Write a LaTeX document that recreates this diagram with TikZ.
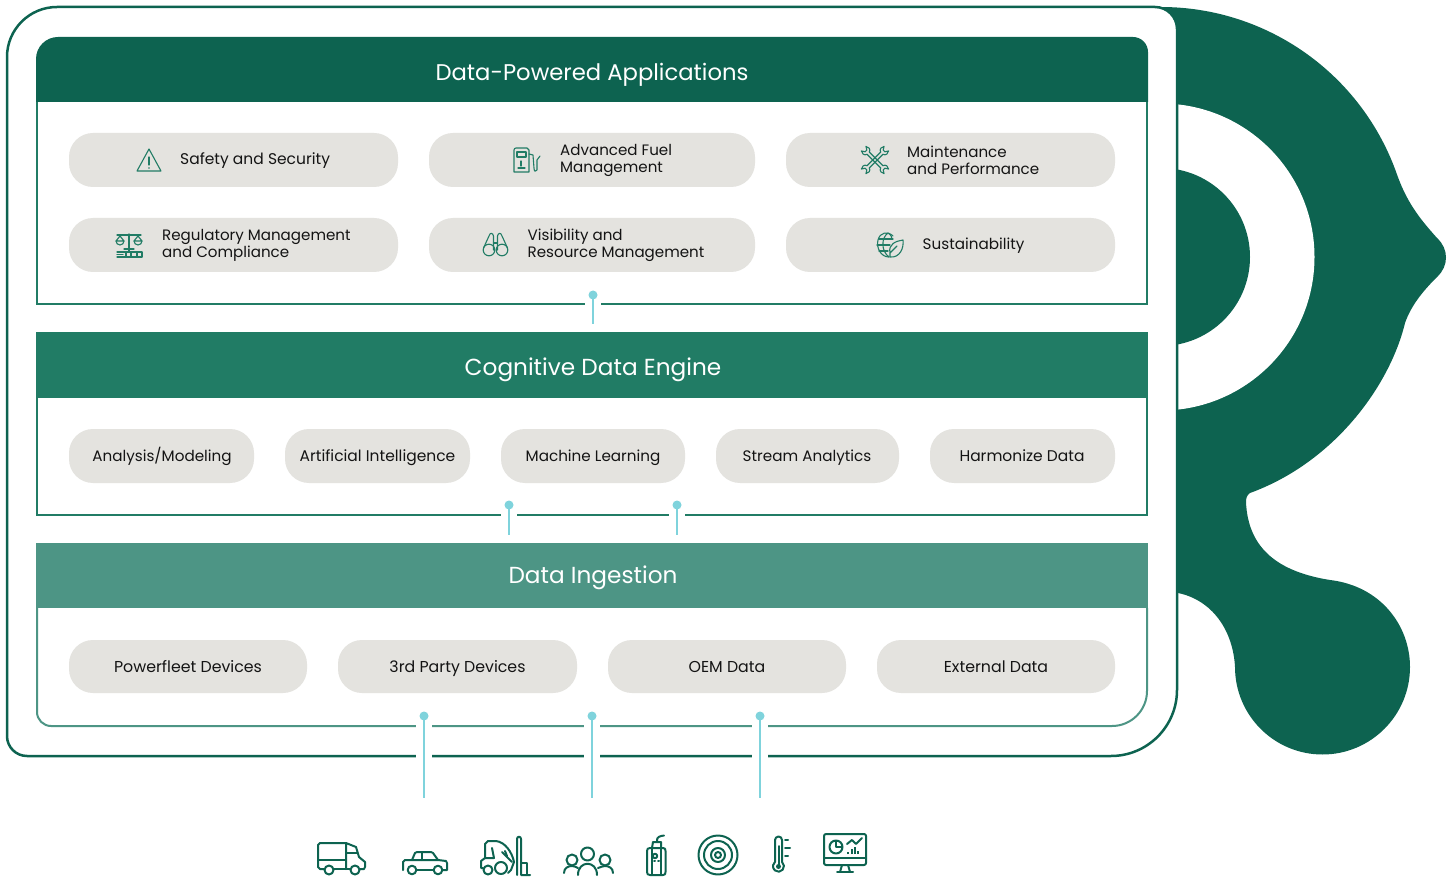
\documentclass[tikz,border=0pt]{standalone}
\usepackage{fontspec}
\setmainfont{Poppins}
\definecolor{gdark}{HTML}{0D6350}
\definecolor{gmid}{HTML}{217C65}
\definecolor{glight}{HTML}{4D9585}
\definecolor{pillc}{HTML}{E4E3DF}
\definecolor{teal}{HTML}{7FD3DC}
\definecolor{ink}{HTML}{141414}
\tikzset{
  x=1pt,y=-1pt,
  pill/.style={fill=pillc,draw=none,rounded corners=24pt},
  pilltext/.style={font=\fontsize{15.2}{17}\selectfont,text=ink,align=left,inner sep=0pt,text height=11pt,text depth=3.5pt},
  twoline/.style={font=\fontsize{15.1}{17}\selectfont},
  headtext/.style={font=\fontsize{22.7}{26}\selectfont,text=white,inner sep=0pt,text height=17pt,text depth=5pt},
  headwide/.style={font=\fontsize{23.2}{26}\selectfont},
  dot/.style={circle,fill=teal,draw=none,minimum size=9pt,inner sep=0pt},
  conn/.style={draw=teal,line width=2pt},
  gapline/.style={draw=white,line width=4pt},
  ico/.style={draw=gmid,line width=1.1pt,line cap=round,line join=round},
  bico/.style={draw=gdark,line width=2pt,line cap=round,line join=round},
}
\newcommand{\pillbox}[5]{\path[pill] (#2,#3) rectangle (#4,#5) node[midway,coordinate] (#1) {};}
\begin{document}
\begin{tikzpicture}
\useasboundingbox (0,0) rectangle (1452,877);
% logo
\fill[gdark] (1150,7) -- (1161,7) arc[start angle=-90,end angle=-19,radius=250]
  .. controls (1408,205) and (1422,221) .. (1437,238)
  .. controls (1449,249) and (1449,266) .. (1437,277)
  .. controls (1422,292) and (1411,306) .. (1405,323)
  .. controls (1390,385) and (1335,462) .. (1250,493)
  .. controls (1247,495) and (1246,498) .. (1246,502)
  .. controls (1248,550) and (1280,572) .. (1330,580)
  .. controls (1381,586) and (1410,626) .. (1410,667)
  arc[start angle=0,end angle=180,radius=87.5]
  .. controls (1233,630) and (1212,600) .. (1178,593)
  -- (1150,593) -- cycle;
\fill[white] (1161,257) circle[radius=153.5];
\fill[gdark] (1161,257) circle[radius=89];
% frame
\path[fill=white,draw=gdark,line width=2.5pt]
  (57,7) -- (1155,7) arc[start angle=-90,end angle=0,radius=22]
  -- (1177,690) arc[start angle=0,end angle=90,radius=66]
  -- (27,756) arc[start angle=90,end angle=180,radius=20]
  -- (7,57) arc[start angle=180,end angle=270,radius=50] -- cycle;
% panels
\draw[gmid,line width=2pt] (37,102) -- (37,304) -- (1147,304) -- (1147,102);
\draw[gmid,line width=2pt] (37,398) -- (37,515) -- (1147,515) -- (1147,398);
\draw[glight,line width=2pt] (37,608) -- (37,712) arc[start angle=180,end angle=90,radius=14] -- (1112,726)
   arc[start angle=90,end angle=0,radius=35] -- (1147,608);
\fill[gdark] (36,102) -- (36,59) arc[start angle=180,end angle=270,radius=22] -- (1133,37)
   arc[start angle=-90,end angle=0,radius=15] -- (1148,102) -- cycle;
\fill[gmid] (36,332) rectangle (1148,398);
\fill[glight] (36,543) rectangle (1148,608);
\node[headtext] (h1) at (592,74.5) {Data-Powered Applications};
\node[headtext,headwide] (h2) at (593,370) {Cognitive Data Engine};
\node[headtext,headwide] (h3) at (593,577) {Data Ingestion};
% pills row 1,2
\pillbox{a1}{69}{133}{398}{187}
\pillbox{a2}{429}{133}{755}{187}
\pillbox{a3}{786}{133}{1115}{187}
\pillbox{a4}{69}{218}{398}{272}
\pillbox{a5}{429}{218}{755}{272}
\pillbox{a6}{786}{218}{1115}{272}
\node[pilltext,font=\fontsize{15.5}{17}\selectfont,anchor=west] (t1) at (180,161.25) {Safety and Security};
\node[pilltext,twoline,anchor=west] (t2) at (560,168.75) {Advanced Fuel\\Management};
\node[pilltext,twoline,anchor=west] (t3) at (907,170.75) {Maintenance\\and Performance};
\node[pilltext,twoline,anchor=west] (t4) at (162,254.25) {Regulatory Management\\and Compliance};
\node[pilltext,twoline,anchor=west] (t5) at (527.5,254.25) {Visibility and\\Resource Management};
\node[pilltext,anchor=west] (t6) at (922.5,246.25) {Sustainability};
% pills row 3
\pillbox{b1}{69}{429}{254}{483}
\pillbox{b2}{285}{429}{470}{483}
\pillbox{b3}{501}{429}{685}{483}
\pillbox{b4}{716}{429}{899}{483}
\pillbox{b5}{930}{429}{1115}{483}
\node[pilltext] at (162,457.5) {Analysis/Modeling};
\node[pilltext,font=\fontsize{15.5}{17}\selectfont] at (377.5,457.5) {Artificial Intelligence};
\node[pilltext] at (593,457.5) {Machine Learning};
\node[pilltext] at (807,457.5) {Stream Analytics};
\node[pilltext,font=\fontsize{15.5}{17}\selectfont] at (1022,457.5) {Harmonize Data};
% pills row 4
\pillbox{c1}{69}{640}{307}{693}
\pillbox{c2}{338}{640}{577}{693}
\pillbox{c3}{608}{640}{846}{693}
\pillbox{c4}{877}{640}{1115}{693}
\node[pilltext,font=\fontsize{15.8}{17}\selectfont] at (188,668.5) {Powerfleet Devices};
\node[pilltext,font=\fontsize{15.8}{17}\selectfont] at (457.5,668.5) {3rd Party Devices};
\node[pilltext,font=\fontsize{15.8}{17}\selectfont] at (727,668.5) {OEM Data};
\node[pilltext,font=\fontsize{15.8}{17}\selectfont] at (996,668.5) {External Data};
% gaps
\draw[gapline] (585,304) -- (601,304);
\draw[gapline] (501,515) -- (517,515);
\draw[gapline] (669,515) -- (685,515);
\foreach \gx in {424,592,760}{
  \draw[gapline] (\gx-8,726) -- (\gx+8,726);
  \draw[gapline] (\gx-8,756) -- (\gx+8,756);
}
% connectors
\node[dot] (d1) at (593,295) {}; \coordinate (e1) at (593,324);
\node[dot] (d2) at (509,505) {}; \coordinate (e2) at (509,535);
\node[dot] (d3) at (677,505) {}; \coordinate (e3) at (677,535);
\node[dot] (d4) at (424,716) {}; \coordinate (e4) at (424,798);
\node[dot] (d5) at (592,716) {}; \coordinate (e5) at (592,798);
\node[dot] (d6) at (760,716) {}; \coordinate (e6) at (760,798);
\foreach \n in {1,...,6}{\draw[conn] (d\n.center) -- (e\n);}
% --- pill icons ---
% warning
\draw[ico] (149,149) -- (137,171) -- (161,171) -- cycle;
\draw[ico] (149,157) -- (149,165); \fill[gmid] (149,168) circle[radius=.8];
% fuel
\draw[ico] (514,150) arc[start angle=180,end angle=270,radius=2] -- (527,148) -- (529,150) -- (529,172) -- (514,172) -- cycle;
\draw[ico] (517,152) rectangle (526,157);
\draw[ico] (521,161) -- (521,166); \draw[ico] (518,168) -- (525,168);
\draw[ico] (529,154) -- (533,155) -- (534,168) .. controls (534,172) and (536,172) .. (537,170) -- (537,160) -- (540,156);
% scales
\draw[ico] (129,234) -- (129,252); \draw[ico] (117,235) -- (141,235); \draw[ico] (124,249) -- (134,249);
\draw[ico] (120,236) -- (116,241) -- (124,241) -- cycle;
\draw[ico] (116,241) arc[start angle=180,end angle=0,radius=4];
\draw[ico] (138,236) -- (134,241) -- (142,241) -- cycle;
\draw[ico] (134,241) arc[start angle=180,end angle=0,radius=4];
\draw[ico] (117,252) -- (142,252) -- (142,257) -- (117,257);
\draw[ico] (117,254.5) -- (123,254.5); \draw[ico] (126,252) -- (126,257); \draw[ico] (131,252) -- (131,257); \draw[ico] (137,252) -- (137,257);
% binoculars
\draw[ico] (489,250) circle[radius=5.8]; \draw[ico] (502,250) circle[radius=5.8];
\draw[ico] (483.5,248) -- (489,236) .. controls (490,232) and (493,233) .. (493.5,236) -- (493.5,250);
\draw[ico] (507.5,248) -- (502,236) .. controls (501,232) and (498,233) .. (497.5,236) -- (497.5,250);
\draw[ico] (493.5,243) -- (497.5,243);
% wrenches
\foreach \ang in {45,135}{
  \begin{scope}[shift={(875,160)},rotate=\ang,scale=.8]
    \draw[ico] (-12,-2) -- (12,-2);
    \draw[ico] (-12,2) -- (12,2);
    \draw[ico] (12,-2) .. controls (13,-6) and (18,-6) .. (20,-4) -- (16,-1.5) -- (16,1.5) -- (20,4) .. controls (18,6) and (13,6) .. (12,2);
    \draw[ico] (-12,-2) .. controls (-13,-6) and (-18,-6) .. (-20,-4) -- (-16,-1.5) -- (-16,1.5) -- (-20,4) .. controls (-18,6) and (-13,6) .. (-12,2);
  \end{scope}
}
% globe + leaf
\draw[ico] (893,236) .. controls (888,231) and (880,232) .. (878,240) .. controls (876,248) and (881,257) .. (889,257);
\draw[ico] (888,233) .. controls (881,238) and (881,251) .. (889,257);
\draw[ico] (888,233) .. controls (891,235) and (892,237) .. (892,239);
\draw[ico] (877,245) -- (890,245); \draw[ico] (879,239) -- (893,239); \draw[ico] (879,251) -- (888,251);
\draw[ico] (890,253) .. controls (888,244) and (896,241) .. (903,240) .. controls (904,248) and (900,258) .. (890,257) -- (890,253) -- (897,246);
% --- bottom icons ---
% truck
\draw[bico] (346,843) -- (320,843) -- (318,845) -- (318,867) -- (320,869) -- (324,869);
\draw[bico] (334,869) -- (350,869); \draw[bico] (360,869) -- (364,869) -- (365,867) -- (365,862) -- (359,857) -- (356,847) -- (346,843) -- (346,869);
\draw[bico] (318,860) -- (346,860); \draw[bico] (346,853) -- (357,853);
\draw[bico] (329,870) circle[radius=4.5]; \draw[bico] (355,870) circle[radius=4.5];
% car
\draw[bico] (403,870) -- (403,862) -- (405,860) -- (438,860) -- (446,861) -- (447,863) -- (447,870) -- (443,870);
\draw[bico] (412,860) -- (415,853) -- (417,852) -- (431,852) -- (433,853) -- (438,860);
\draw[bico] (422,852) -- (422,860); \draw[bico] (417,870) -- (433,870);
\draw[bico] (412,870) circle[radius=4.3]; \draw[bico] (438,870) circle[radius=4.3];
% forklift
\draw[bico] (483,868) -- (481,868) -- (481,861) -- (485,858) -- (485,844) -- (488,841) -- (496,841) .. controls (505,842) and (512,852) .. (514,862) -- (511,870) -- (508,873);
\draw[bico] (492,848) -- (494,858) -- (485,858);
\draw[bico] (502,852) -- (512,862); \draw[bico] (505,851) -- (507,856);
\draw[bico] (488,870) circle[radius=4.5]; \draw[bico] (501,868) circle[radius=6];
\draw[bico] (517,875) -- (517,839) .. controls (517,836) and (521,836) .. (521,839) -- (521,875) -- (530,875);
\draw[bico] (521,863) -- (527,863) -- (527,875);
% people
\draw[bico] (572,860) circle[radius=5.5]; \draw[bico] (587.5,854) circle[radius=6.5]; \draw[bico] (605,860) circle[radius=5.5];
\draw[bico] (578,875) .. controls (578,860) and (597,860) .. (597,875);
\draw[bico] (564,873) .. controls (564,868) and (568,866) .. (572,866) .. controls (574,866) and (576,867) .. (578,868);
\draw[bico] (613,873) .. controls (613,868) and (609,866) .. (605,866) .. controls (603,866) and (601,867) .. (598,868);
% meter
\draw[bico] (650,848) -- (663,848) .. controls (665,848) and (665.5,849) .. (665.5,851) -- (665.5,872) .. controls (665.5,874) and (665,875) .. (663,875) -- (650,875) .. controls (648,875) and (647,874) .. (647,872) -- (647,851) .. controls (647,849) and (648,848) .. (650,848);
\draw[bico] (652,848) -- (652,875); \draw[bico] (661,848) -- (661,875);
\draw[bico] (652,848) -- (653,842) -- (661,842) -- (661,848);
\draw[bico] (657,842) -- (657,840) .. controls (657,837) and (660,836) .. (664,835.5);
\draw[bico] (655,856) circle[radius=2.2]; \draw[bico] (654,861) -- (655,861); \draw[bico] (658,861) -- (659,861);
% target
\draw[bico] (718,855) circle[radius=19.5];
\draw[bico] (718,855) circle[radius=14];
\draw[bico] (718,855) circle[radius=7]; \draw[bico] (718,855) circle[radius=3];
% thermometer
\draw[bico] (775,862) -- (775,840) arc[start angle=180,end angle=360,radius=3.5] -- (782,862)
  arc[start angle=-50,end angle=230,radius=5.5];
\draw[bico] (778.5,846) -- (778.5,866); \fill[gdark] (778.5,866.5) circle[radius=2.5];
\draw[bico] (785,840) -- (788,840); \draw[bico] (785,848) -- (790,848); \draw[bico] (785,856) -- (788,856);
% monitor
\draw[bico] (826,834) -- (864,834) .. controls (865.5,834) and (866,835) .. (866,836) -- (866,863) .. controls (866,864) and (865.5,865) .. (864,865) -- (826,865) .. controls (825,865) and (824,864) .. (824,863) -- (824,836) .. controls (824,835) and (825,834) .. (826,834);
\draw[bico] (824,858) -- (866,858);
\draw[bico] (842,865) -- (840,872); \draw[bico] (848,865) -- (850,872); \draw[bico] (837,872) -- (853,872);
\draw[bico] (836,847) circle[radius=6.5]; \draw[bico] (836,841) -- (836,847) -- (842,847);
\draw[bico] (847,844) -- (852,840) -- (856,844) -- (862,838);
\draw[gdark,line width=1.6pt] (848,854) -- (848,852) (852,854) -- (852,849) (855,854) -- (855,847) (858,854) -- (858,851);
\end{tikzpicture}
\end{document}
